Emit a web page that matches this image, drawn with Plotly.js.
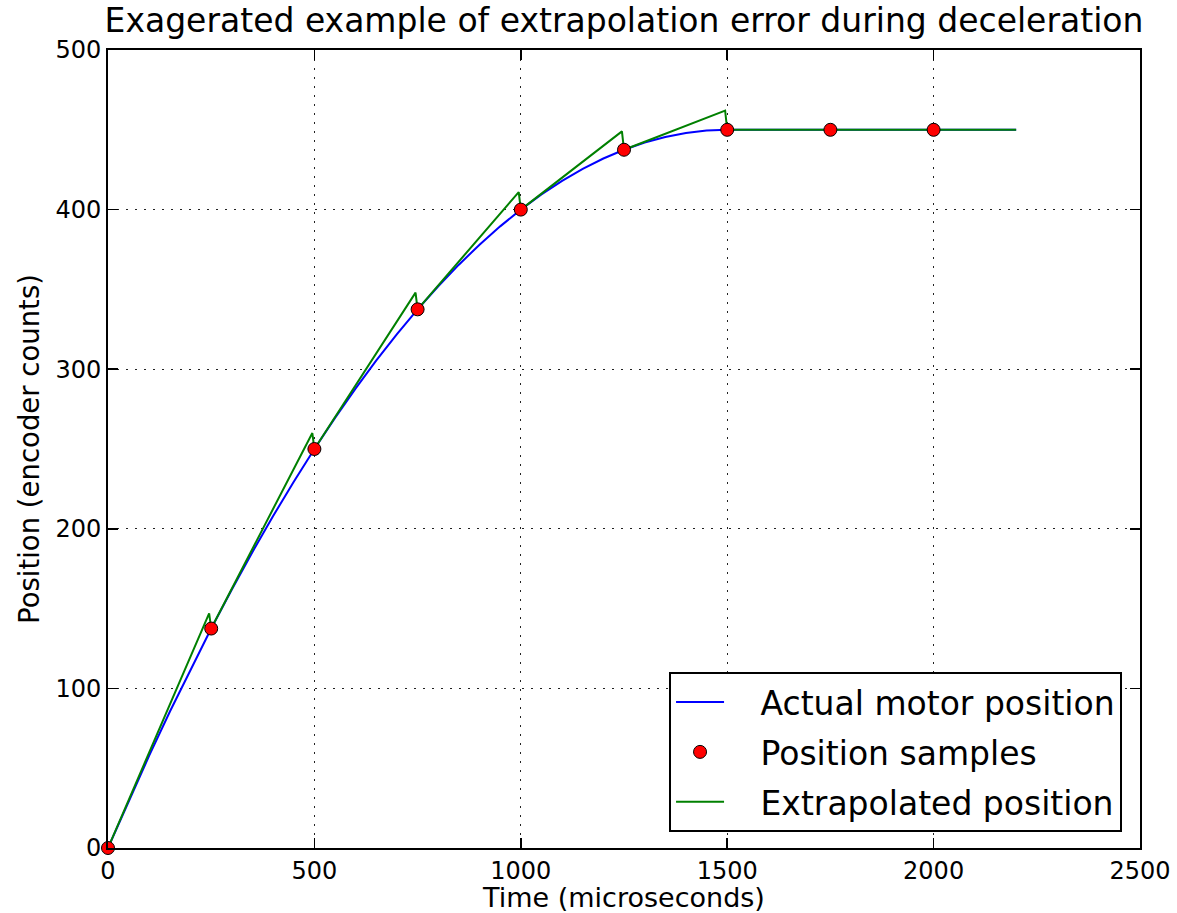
<!DOCTYPE html>
<html>
<head>
<meta charset="utf-8">
<script src="https://cdn.plot.ly/plotly-3.0.1.min.js"></script>
<style>html,body{margin:0;padding:0;background:#fff;}#chart{width:1177px;height:913px;}</style>
</head>
<body>
<div id="chart"></div>
<script>
// Actual motor position (time in microseconds, position in encoder counts)
var actualTime = [0,50,100,150,200,250,300,350,400,450,500,550,600,650,700,750,800,850,900,950,1000,1050,1100,1150,1200,1250,1300,1350,1400,1450,1500,2200];
var actualPos  = [0,29.5,58,85.5,112,137.5,162,185.5,208,229.5,250,269.5,288,305.5,322,337.5,352,365.5,378,389.5,400,409.5,418,425.5,432,437.5,442,445.5,448,449.5,450,450];

// Position samples
var sampleTime = [0,250,500,750,1000,1250,1500,1750,2000];
var samplePos  = [0,137.5,250,337.5,400,437.5,450,450,450];

// Extrapolated position
var extrapTime = [0,245,250,495,500,745,750,995,1000,1245,1250,1495,1500,2200];
var extrapPos  = [0,147,137.5,260,250,348,337.5,411,400,449,437.5,462,450,450];

var titleText = "Exagerated example of extrapolation error during deceleration";
var xTitle = "Time (microseconds)";
var yTitle = "Position (encoder counts)";
var seriesNames = ["Actual motor position", "Position samples", "Extrapolated position"];
var xTicks = [0,500,1000,1500,2000,2500];
var yTicks = [0,100,200,300,400,500];

var FONT = "DejaVu Sans, sans-serif";
var PAD = "\u00a0\u00a0\u00a0";

var tActual = {x: actualTime, y: actualPos, type: "scatter", mode: "lines", name: PAD + seriesNames[0],
   line: {color: "#0000ff", width: 2}, legendgroup: "a", legendrank: 1};
var tSamples = {x: sampleTime, y: samplePos, type: "scatter", mode: "markers", name: PAD + seriesNames[1],
   marker: {color: "#ff0000", size: 13, line: {color: "#000000", width: 1}}, legendgroup: "b", legendrank: 2, cliponaxis: false};
var tExtrap = {x: extrapTime, y: extrapPos, type: "scatter", mode: "lines", name: PAD + seriesNames[2],
   line: {color: "#008000", width: 2}, legendgroup: "c", legendrank: 3};

var traces = [tActual, tExtrap, tSamples];

var axisCommon = {
  showline: true, linecolor: "#000", linewidth: 2, mirror: "allticks",
  ticks: "inside", ticklen: 10, tickwidth: 1.5, tickcolor: "#000",
  showgrid: true, gridcolor: "#222", gridwidth: 1, griddash: "2px,7px",
  zeroline: false, tickfont: {family: FONT, size: 24, color: "#000"}
};

var layout = {
  width: 1177, height: 913,
  margin: {l: 108, r: 37, t: 50, b: 65},
  paper_bgcolor: "#fff", plot_bgcolor: "#fff",
  title: {text: titleText, font: {family: FONT, size: 33, color: "#000"}, x: 0.5, xref: "paper", y: 0.978, yref: "container", yanchor: "middle"},
  xaxis: Object.assign({}, axisCommon, {range: [0, 2500], tickvals: xTicks, ticktext: xTicks.map(String),
    title: {text: xTitle, font: {family: FONT, size: 27, color: "#000"}, standoff: 6}}),
  yaxis: Object.assign({}, axisCommon, {range: [0, 500], tickvals: yTicks, ticktext: yTicks.map(String),
    title: {text: yTitle, font: {family: FONT, size: 27.5, color: "#000"}, standoff: 8}}),
  showlegend: true,
  legend: {x: 0.9826, xanchor: "right", y: 0.02, yanchor: "bottom", bgcolor: "#fff",
    bordercolor: "#000", borderwidth: 2, font: {family: FONT, size: 33, color: "#000"},
    traceorder: "grouped", tracegroupgap: 4, itemwidth: 48}
};

Plotly.newPlot("chart", traces, layout, {displayModeBar: false, staticPlot: true});
</script>
</body>
</html>
